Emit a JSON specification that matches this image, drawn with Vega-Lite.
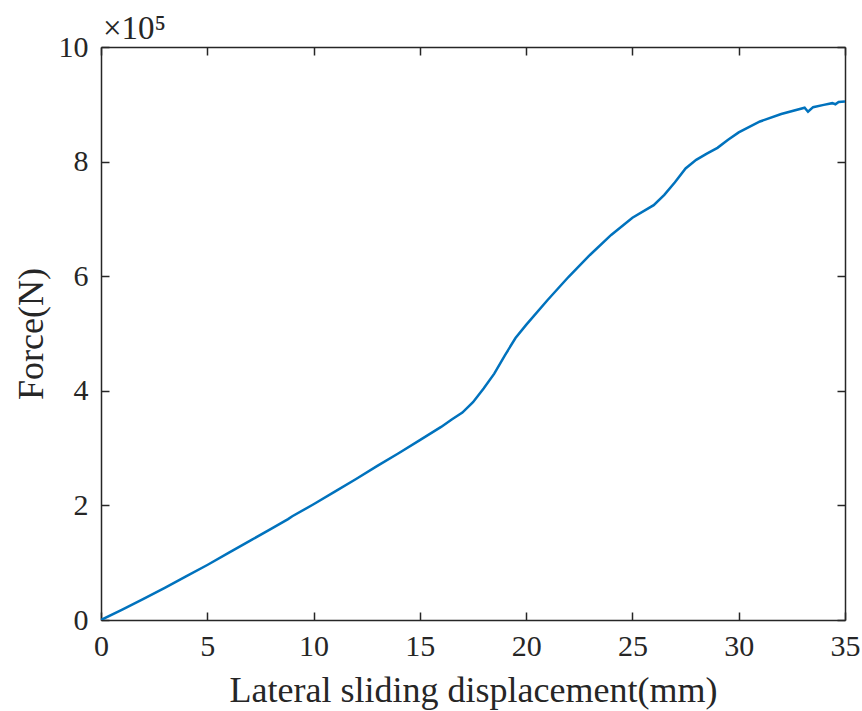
{
  "$schema": "https://vega.github.io/schema/vega-lite/v6.json",
  "width": 744,
  "height": 573,
  "autosize": "none",
  "padding": {"left": 101, "top": 47, "right": 17, "bottom": 91},
  "background": "white",
  "config": {
    "view": {"stroke": null},
    "font": "Liberation Serif",
    "axis": {
      "grid": false,
      "domainColor": "#262626",
      "domainWidth": 1.5,
      "tickColor": "#262626",
      "tickWidth": 1.5,
      "tickSize": -8,
      "labelFont": "Liberation Serif",
      "labelFontSize": 30,
      "labelColor": "#262626",
      "titleFont": "Liberation Serif",
      "titleFontSize": 36,
      "titleFontWeight": "normal",
      "titleColor": "#262626"
    }
  },
  "datasets": {
    "curve": [
      {"d": 0, "f": 0},
      {"d": 1, "f": 18000},
      {"d": 2, "f": 37000},
      {"d": 3, "f": 56000},
      {"d": 4, "f": 76000},
      {"d": 5, "f": 96000},
      {"d": 6, "f": 117000},
      {"d": 7, "f": 138000},
      {"d": 8, "f": 159000},
      {"d": 8.8, "f": 176000},
      {"d": 9, "f": 181000},
      {"d": 10, "f": 202000},
      {"d": 11, "f": 224000},
      {"d": 12, "f": 246000},
      {"d": 13, "f": 269000},
      {"d": 14, "f": 291000},
      {"d": 15, "f": 314000},
      {"d": 16, "f": 337000},
      {"d": 16.5, "f": 350000},
      {"d": 17, "f": 362000},
      {"d": 17.5, "f": 380000},
      {"d": 18, "f": 404000},
      {"d": 18.5, "f": 430000},
      {"d": 19, "f": 462000},
      {"d": 19.5, "f": 492000},
      {"d": 20, "f": 515000},
      {"d": 21, "f": 558000},
      {"d": 22, "f": 599000},
      {"d": 23, "f": 637000},
      {"d": 24, "f": 672000},
      {"d": 25, "f": 702000},
      {"d": 26, "f": 724000},
      {"d": 26.5, "f": 742000},
      {"d": 27, "f": 764000},
      {"d": 27.5, "f": 788000},
      {"d": 28, "f": 803000},
      {"d": 28.5, "f": 814000},
      {"d": 29, "f": 824000},
      {"d": 29.5, "f": 838000},
      {"d": 30, "f": 851000},
      {"d": 31, "f": 870000},
      {"d": 32, "f": 883000},
      {"d": 33.1, "f": 894000},
      {"d": 33.26, "f": 887000},
      {"d": 33.5, "f": 895000},
      {"d": 34, "f": 899000},
      {"d": 34.4, "f": 902000},
      {"d": 34.55, "f": 900000},
      {"d": 34.7, "f": 904000},
      {"d": 35, "f": 905000}
    ],
    "exponent": [
      {"d": 0, "f": 1000000, "label": "×10⁵"}
    ]
  },
  "layer": [
    {
      "data": {"name": "curve"},
      "mark": {"type": "line", "color": "#0072BD", "strokeWidth": 2.5, "clip": true},
      "encoding": {
        "x": {
          "field": "d", "type": "quantitative",
          "scale": {"domain": [0, 35], "nice": false},
          "axis": {"values": [0, 5, 10, 15, 20, 25, 30, 35], "title": "Lateral sliding displacement(mm)", "labelPadding": 19, "titlePadding": 12, "labelFlush": false}
        },
        "y": {
          "field": "f", "type": "quantitative",
          "scale": {"domain": [0, 1000000], "nice": false},
          "axis": {"values": [0, 200000, 400000, 600000, 800000, 1000000], "labelExpr": "format(datum.value/100000, 'd')", "title": "Force(N)", "labelPadding": 21, "titlePadding": 8, "labelFlush": false}
        }
      }
    },
    {
      "data": {"name": "curve"},
      "mark": {"type": "line", "opacity": 0},
      "encoding": {
        "x": {
          "field": "d", "type": "quantitative",
          "scale": {"domain": [0, 35], "nice": false},
          "axis": {"orient": "top", "values": [0, 5, 10, 15, 20, 25, 30, 35], "labels": false, "title": null}
        },
        "y": {
          "field": "f", "type": "quantitative",
          "scale": {"domain": [0, 1000000], "nice": false},
          "axis": {"orient": "right", "values": [0, 200000, 400000, 600000, 800000, 1000000], "labels": false, "title": null}
        }
      }
    },
    {
      "data": {"name": "exponent"},
      "mark": {"type": "text", "align": "left", "baseline": "alphabetic", "dx": 2, "dy": -8, "fontSize": 33, "font": "Liberation Serif", "color": "#262626"},
      "encoding": {
        "x": {"field": "d", "type": "quantitative", "axis": null},
        "y": {"field": "f", "type": "quantitative", "axis": null},
        "text": {"field": "label"}
      }
    }
  ],
  "resolve": {"axis": {"x": "independent", "y": "independent"}}
}
